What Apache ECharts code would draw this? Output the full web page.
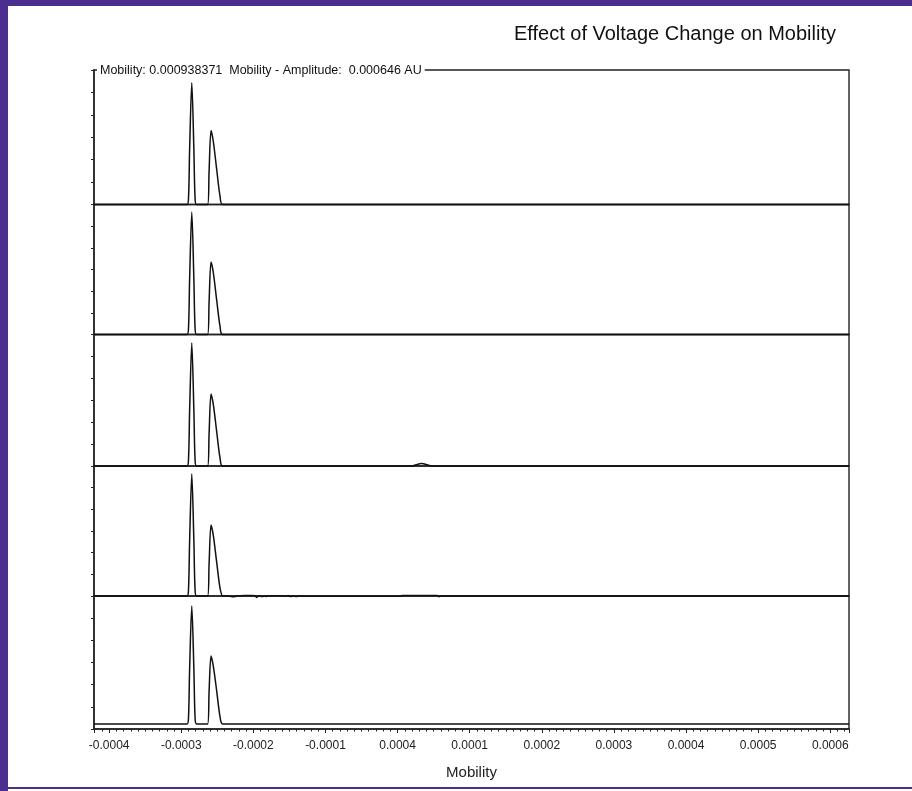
<!DOCTYPE html>
<html>
<head>
<meta charset="utf-8">
<title>Effect of Voltage Change on Mobility</title>
<script src="https://cdn.jsdelivr.net/npm/echarts@6/dist/echarts.min.js"></script>
<style>
html,body{margin:0;padding:0;background:#fff;}
#chart{width:912px;height:791px;}
</style>
</head>
<body>
<div id="chart"></div>
<script>
// tick labels as printed on the original (the zero tick reads 0.0004 there)
var tickValues = [-0.0004, -0.0003, -0.0002, -0.0001, 0, 0.0001, 0.0002, 0.0003, 0.0004, 0.0005, 0.0006];
var tickLabels = ['-0.0004', '-0.0003', '-0.0002', '-0.0001', '0.0004', '0.0001', '0.0002', '0.0003', '0.0004', '0.0005', '0.0006'];

var xMin = -0.000421;
var xMax = 0.000626;

// start of trace + two peaks
var mobilityPeaks = [-0.000421, -0.0002920, -0.0002899, -0.0002884, -0.0002854, -0.0002825, -0.0002809, -0.0002788,
    -0.0002635, -0.0002614, -0.0002587, -0.0002555, -0.0002508, -0.0002462, -0.0002425];
var mobilityEnd = [0.000626];
// small bump on trace 3
var mobilityBump = [0.0000201, 0.0000257, 0.0000333, 0.0000409, 0.0000465];
// ripple on trace 4
var mobilityNoise = [-0.0002393, -0.0002323, -0.0002282, -0.0002240, -0.0002185, -0.0002115, -0.0002018, -0.0001977,
    -0.0001956, -0.0001935, -0.0001907, -0.0001879, -0.0001852, -0.0001824, -0.0001796, -0.0001741, -0.0001602,
    -0.0001560, -0.0001519, -0.0001477, -0.0001449, -0.0001408, -0.0001366, -0.0001325, 0.0000035, 0.0000062,
    0.0000548, 0.0000576, 0.0000603];

var amp1 = [0, 0, 0.33, 2.44, 5.43, 2.44, 0.33, 0, 0, 1.49, 3.30, 2.80, 1.55, 0.36, 0, 0];
var amp2 = [0, 0, 0.34, 2.54, 5.65, 2.54, 0.34, 0, 0, 1.51, 3.35, 2.85, 1.57, 0.37, 0, 0];
var amp3 = [0, 0, 0.34, 2.52, 5.61, 2.52, 0.34, 0, 0, 1.48, 3.29, 2.80, 1.55, 0.36, 0,
    0, 0.06, 0.11, 0.06, 0, 0];
var amp4 = [0, 0, 0.34, 2.53, 5.63, 2.53, 0.34, 0, 0, 1.48, 3.28, 2.79, 1.54, 0.36, 0,
    0, -0.014, -0.032, -0.014, 0.014, 0.023, 0.023, 0.009, -0.069, 0, 0.014, -0.037, 0.014, -0.023,
    0.014, 0.014, 0.014, -0.009, 0.018, -0.023, 0.014, -0.028, 0.009, -0.014, -0.014, 0.023,
    0.023, -0.032, 0, 0];
var amp5 = [0.23, 0.23, 0.56, 2.70, 5.55, 2.70, 0.56, 0.23, 0.23, 1.70, 3.29, 2.83, 1.70, 0.55, 0.23, 0.23];

var headerText = 'Mobility: 0.000938371  Mobility - Amplitude:  0.000646 AU';

var mobilityMain = mobilityPeaks.concat(mobilityEnd);
var traces = [
    [mobilityMain, amp1],
    [mobilityMain, amp2],
    [mobilityPeaks.concat(mobilityBump, mobilityEnd), amp3],
    [mobilityPeaks.concat(mobilityNoise, mobilityEnd), amp4],
    [mobilityMain, amp5]
];

// panel rectangles (top, height)
var panels = [[70, 134.5], [204.5, 130], [334.5, 131.5], [466, 130], [596, 133]];

var font = '"Liberation Sans", Arial, sans-serif';
var purple = '#4b2e8f';

function pairUp(xs, ys) {
    var out = [];
    for (var i = 0; i < xs.length; i++) {
        out.push([xs[i], ys[i]]);
    }
    return out;
}

function tickFormatter(v) {
    for (var i = 0; i < tickValues.length; i++) {
        if (Math.abs(v - tickValues[i]) < 1e-9) return tickLabels[i];
    }
    return '';
}

var grids = [], xAxes = [], yAxes = [], series = [];
for (var i = 0; i < panels.length; i++) {
    var last = i == panels.length - 1;
    grids.push({
        left: 94, right: 63, top: panels[i][0], height: panels[i][1],
        show: true, borderColor: '#222', borderWidth: 1.4, backgroundColor: 'transparent'
    });
    xAxes.push({
        type: 'value', gridIndex: i, min: xMin, max: xMax, splitNumber: 10,
        show: last,
        axisLine: {show: true, onZero: false, lineStyle: {color: '#222', width: 1.5}},
        axisTick: {show: true, length: 4, lineStyle: {color: '#222'}},
        minorTick: {show: true, splitNumber: 10, length: 2.5, lineStyle: {color: '#222'}},
        axisLabel: {show: true, margin: 11, color: '#222', fontSize: 12, fontFamily: font, formatter: tickFormatter},
        splitLine: {show: false},
        name: last ? 'Mobility' : '', nameLocation: 'middle', nameGap: 36,
        nameTextStyle: {color: '#222', fontSize: 15, fontFamily: font}
    });
    yAxes.push({
        type: 'value', gridIndex: i, min: 0, max: 6, interval: 1,
        axisLine: {show: true, onZero: false, lineStyle: {color: '#222', width: 1.5}},
        axisTick: {show: true, length: 3, lineStyle: {color: '#222'}},
        axisLabel: {show: false},
        splitLine: {show: false}
    });
    series.push({
        type: 'line', xAxisIndex: i, yAxisIndex: i,
        data: pairUp(traces[i][0], traces[i][1]),
        showSymbol: false, smooth: 0.3, clip: false,
        lineStyle: {color: '#111', width: 1.5},
        silent: true, animation: false
    });
}

var chart = echarts.init(document.getElementById('chart'), null, {renderer: 'canvas'});
chart.setOption({
    animation: false,
    backgroundColor: '#fff',
    title: [
        {
            text: 'Effect of Voltage Change on Mobility',
            right: 76, top: 24, padding: 0,
            textStyle: {color: '#111', fontSize: 20, fontWeight: 'normal', fontFamily: font}
        },
        {
            text: headerText,
            left: 97, top: 63, padding: [0, 3, 0, 3],
            backgroundColor: '#fff',
            textStyle: {color: '#111', fontSize: 12.5, fontWeight: 'normal', fontFamily: font, lineHeight: 15}
        }
    ],
    grid: grids,
    xAxis: xAxes,
    yAxis: yAxes,
    series: series,
    graphic: [
        {type: 'rect', left: 0, top: 0, shape: {width: 8, height: 791}, style: {fill: purple}, silent: true},
        {type: 'rect', left: 0, top: 0, shape: {width: 912, height: 6}, style: {fill: purple}, silent: true},
        {type: 'rect', left: 0, top: 787, shape: {width: 912, height: 2}, style: {fill: purple}, silent: true}
    ]
});
</script>
</body>
</html>
